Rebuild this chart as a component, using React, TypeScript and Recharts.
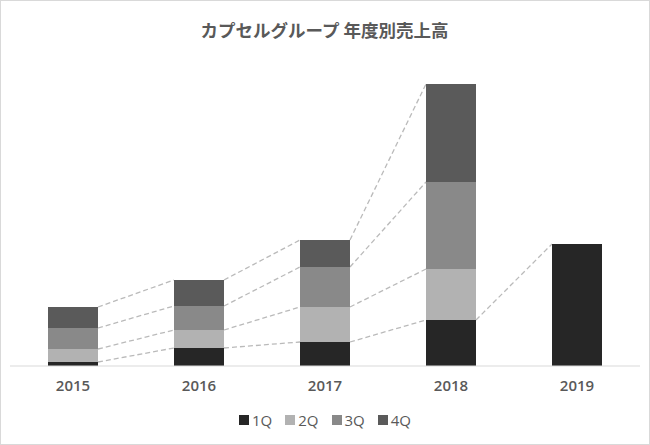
import { Bar, BarChart, Legend, XAxis, YAxis } from 'recharts'

const years = ['2015', '2016', '2017', '2018', '2019']
const q1 = [4, 18, 24, 46, 122]
const q2 = [13, 18, 35, 51, null]
const q3 = [21, 24, 40, 87, null]
const q4 = [21, 26, 27, 98, null]

const seriesNames = ['1Q', '2Q', '3Q', '4Q']
const seriesValues = [q1, q2, q3, q4]
const colors = ['#262626', '#b2b2b2', '#898989', '#5a5a5a']

const W = 650
const H = 445
const margin = {top: 66, right: 10, bottom: 29, left: 10}
const step = (W - margin.left - margin.right) / years.length

const data = years.map((year, i) => ({
  year,
  q1: q1[i],
  q2: q2[i],
  q3: q3[i],
  q4: q4[i],
}))

// sum of series 0..k at one year (null when that year has no value for series k)
function cumulative(k: number, i: number) {
  if (i >= years.length || seriesValues[k][i] == null) return null
  let s = 0
  for (let j = 0; j <= k; j++) s += seriesValues[j][i] ?? 0
  return s
}

function makeShape(k: number) {
  return (props: any) => {
    const {x, y, width, height, index} = props
    const v = seriesValues[k][index]
    if (v == null || !height || height <= 0) return <g />
    const ppu = height / v
    const below = (cumulative(k, index) ?? 0) - v
    const baseY = y + height + below * ppu
    const next = cumulative(k, index + 1)
    return (
      <g>
        <rect x={x} y={y} width={width} height={height} fill={colors[k]} />
        {next != null && (
          <line
            x1={x + width}
            y1={y}
            x2={x + step}
            y2={baseY - next * ppu}
            stroke="#bababa"
            strokeWidth={1.3}
            strokeDasharray="5 3"
          />
        )}
      </g>
    )
  }
}

function LegendBox() {
  return (
    <div style={{height: 20, display: 'flex', justifyContent: 'center', alignItems: 'center', fontFamily: '"Open Sans", "Noto Sans CJK JP", sans-serif', fontSize: 15, color: '#595959'}}>
      {seriesNames.map((name, k) => (
        <span key={name} style={{display: 'flex', alignItems: 'center', marginRight: k < 3 ? 13 : 0}}>
          <span style={{width: 10, height: 10, background: colors[k], marginRight: 3}} />
          {name}
        </span>
      ))}
    </div>
  )
}

export default function App() {
  return (
    <div style={{position: 'absolute', left: 0, top: 0, width: W, height: H, background: '#fff', border: '1px solid #d9d9d9', boxSizing: 'border-box'}}>
      <div style={{position: 'absolute', left: 0, top: 17, width: W - 3, textAlign: 'center', fontFamily: '"Noto Sans CJK JP", sans-serif', fontWeight: 700, fontSize: 17.5, lineHeight: '24px', color: '#595959'}}>
        カプセルグループ 年度別売上高
      </div>
      <div style={{position: 'absolute', left: -1, top: -1}}>
        <BarChart width={W} height={H} data={data} margin={margin} barSize={50}>
          <XAxis
            dataKey="year"
            axisLine={{stroke: '#d9d9d9'}}
            tickLine={false}
            height={30}
            tick={{fontSize: 15, fontWeight: 600, fill: '#595959', fontFamily: '"Open Sans", sans-serif'}}
            tickMargin={8}
          />
          <YAxis hide domain={[0, 300]} />
          <Legend verticalAlign="bottom" content={<LegendBox />} wrapperStyle={{bottom: 15, left: 0, width: W}} />
          <Bar dataKey="q1" name="1Q" stackId="a" fill={colors[0]} shape={makeShape(0)} isAnimationActive={false} />
          <Bar dataKey="q2" name="2Q" stackId="a" fill={colors[1]} shape={makeShape(1)} isAnimationActive={false} />
          <Bar dataKey="q3" name="3Q" stackId="a" fill={colors[2]} shape={makeShape(2)} isAnimationActive={false} />
          <Bar dataKey="q4" name="4Q" stackId="a" fill={colors[3]} shape={makeShape(3)} isAnimationActive={false} />
        </BarChart>
      </div>
    </div>
  )
}
